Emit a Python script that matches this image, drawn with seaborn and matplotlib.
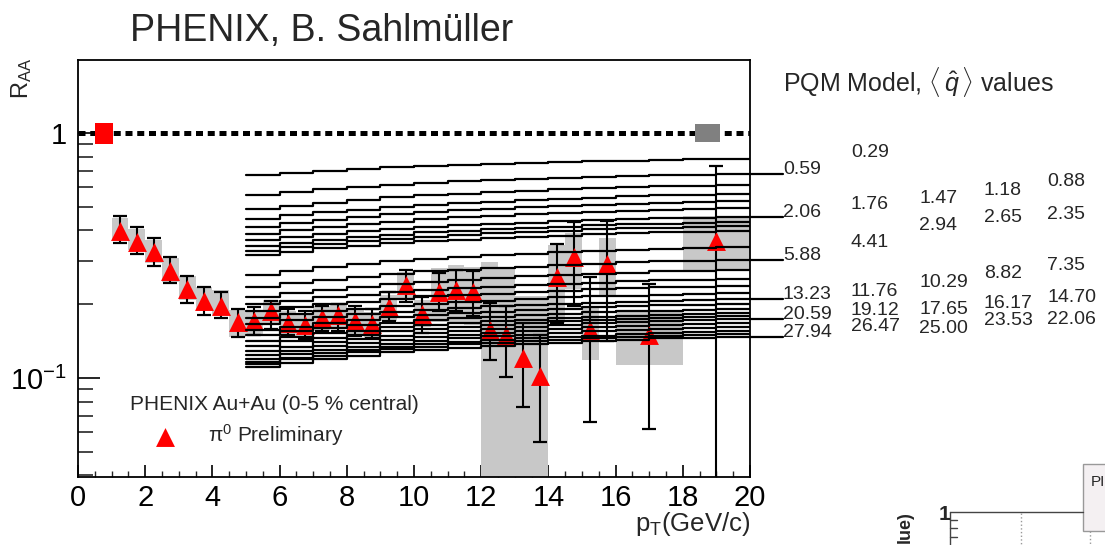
import numpy as np
import pandas as pd
import matplotlib
matplotlib.use("Agg")
import matplotlib.pyplot as plt
from matplotlib.ticker import MultipleLocator, LogLocator, NullFormatter, FixedLocator
from matplotlib.lines import Line2D
from matplotlib.patches import Rectangle
import seaborn as sns

# ---------------- data ----------------
# PQM model curves: <q-hat> values and R_AA in 1-GeV/c steps from pT = 5 to 20
qhat = ["0.29", "0.59", "0.88", "1.18", "1.47", "1.76", "2.06", "2.35", "2.65", "2.94", "4.41", "5.88",
        "7.35", "8.82", "10.29", "11.76", "13.23", "14.70", "16.17", "17.65", "19.12", "20.59", "22.06",
        "23.53", "25.00", "26.47", "27.94"]
model_pt_edges = [5, 6, 7, 8, 9, 10, 11, 12, 13, 14, 15, 16, 17, 18, 19, 20]
model_raa = [
    [0.674, 0.688, 0.702, 0.713, 0.724, 0.734, 0.742, 0.749, 0.755, 0.761, 0.767, 0.772, 0.776, 0.780, 0.783],
    [0.558, 0.574, 0.589, 0.602, 0.614, 0.625, 0.634, 0.641, 0.649, 0.655, 0.662, 0.667, 0.672, 0.676, 0.680],
    [0.490, 0.505, 0.520, 0.533, 0.546, 0.557, 0.566, 0.573, 0.581, 0.588, 0.594, 0.600, 0.605, 0.609, 0.613],
    [0.446, 0.461, 0.475, 0.487, 0.499, 0.509, 0.518, 0.525, 0.533, 0.539, 0.545, 0.551, 0.556, 0.560, 0.564],
    [0.413, 0.428, 0.442, 0.454, 0.465, 0.475, 0.483, 0.490, 0.498, 0.504, 0.510, 0.515, 0.520, 0.524, 0.528],
    [0.387, 0.401, 0.413, 0.425, 0.435, 0.445, 0.453, 0.459, 0.466, 0.472, 0.478, 0.482, 0.487, 0.491, 0.494],
    [0.366, 0.377, 0.388, 0.397, 0.406, 0.414, 0.420, 0.426, 0.431, 0.436, 0.441, 0.444, 0.448, 0.451, 0.454],
    [0.346, 0.357, 0.367, 0.377, 0.385, 0.393, 0.399, 0.405, 0.410, 0.415, 0.420, 0.424, 0.427, 0.430, 0.433],
    [0.330, 0.341, 0.351, 0.361, 0.369, 0.377, 0.383, 0.389, 0.394, 0.399, 0.404, 0.408, 0.411, 0.414, 0.417],
    [0.318, 0.328, 0.338, 0.346, 0.354, 0.361, 0.367, 0.372, 0.377, 0.381, 0.386, 0.389, 0.393, 0.395, 0.398],
    [0.263, 0.273, 0.283, 0.291, 0.299, 0.306, 0.312, 0.317, 0.322, 0.326, 0.330, 0.334, 0.337, 0.340, 0.343],
    [0.235, 0.244, 0.252, 0.259, 0.266, 0.272, 0.277, 0.281, 0.285, 0.289, 0.293, 0.296, 0.299, 0.301, 0.303],
    [0.214, 0.222, 0.229, 0.236, 0.242, 0.247, 0.252, 0.256, 0.260, 0.263, 0.266, 0.269, 0.272, 0.274, 0.276],
    [0.200, 0.207, 0.214, 0.219, 0.224, 0.229, 0.233, 0.236, 0.240, 0.242, 0.245, 0.248, 0.250, 0.252, 0.254],
    [0.188, 0.194, 0.200, 0.205, 0.210, 0.215, 0.218, 0.221, 0.224, 0.227, 0.230, 0.232, 0.234, 0.236, 0.237],
    [0.176, 0.182, 0.187, 0.192, 0.197, 0.201, 0.204, 0.207, 0.210, 0.213, 0.215, 0.217, 0.219, 0.221, 0.222],
    [0.166, 0.172, 0.177, 0.182, 0.186, 0.190, 0.193, 0.196, 0.199, 0.201, 0.203, 0.205, 0.207, 0.209, 0.210],
    [0.157, 0.162, 0.168, 0.172, 0.177, 0.180, 0.184, 0.186, 0.189, 0.191, 0.194, 0.196, 0.198, 0.199, 0.200],
    [0.150, 0.155, 0.160, 0.164, 0.168, 0.172, 0.175, 0.178, 0.180, 0.183, 0.185, 0.187, 0.188, 0.190, 0.191],
    [0.142, 0.147, 0.152, 0.156, 0.161, 0.164, 0.168, 0.170, 0.173, 0.175, 0.178, 0.179, 0.181, 0.183, 0.184],
    [0.135, 0.141, 0.146, 0.150, 0.155, 0.159, 0.162, 0.165, 0.167, 0.170, 0.172, 0.174, 0.176, 0.178, 0.179],
    [0.129, 0.134, 0.140, 0.144, 0.149, 0.153, 0.156, 0.159, 0.162, 0.164, 0.167, 0.169, 0.171, 0.173, 0.174],
    [0.124, 0.129, 0.135, 0.139, 0.143, 0.147, 0.150, 0.153, 0.156, 0.158, 0.161, 0.163, 0.165, 0.166, 0.168],
    [0.120, 0.125, 0.130, 0.134, 0.138, 0.142, 0.145, 0.148, 0.150, 0.153, 0.155, 0.157, 0.159, 0.160, 0.161],
    [0.116, 0.121, 0.126, 0.130, 0.134, 0.137, 0.140, 0.143, 0.145, 0.147, 0.149, 0.151, 0.153, 0.154, 0.156],
    [0.114, 0.119, 0.123, 0.127, 0.131, 0.134, 0.137, 0.139, 0.141, 0.143, 0.145, 0.147, 0.149, 0.150, 0.151],
    [0.111, 0.115, 0.120, 0.123, 0.127, 0.130, 0.133, 0.135, 0.137, 0.139, 0.141, 0.143, 0.145, 0.146, 0.147],
]

# PHENIX pi0 R_AA (0-5 % central)
pt = [1.25, 1.75, 2.25, 2.75, 3.25, 3.75, 4.25, 4.75, 5.25, 5.75, 6.25, 6.75, 7.25, 7.75, 8.25, 8.75, 9.25, 9.75,
      10.25, 10.75, 11.25, 11.75, 12.25, 12.75, 13.25, 13.75, 14.25, 14.75, 15.25, 15.75, 17.0, 19.0]
bin_w = [0.5] * 30 + [2.0, 2.0]
raa = [0.399, 0.360, 0.328, 0.274, 0.231, 0.207, 0.197, 0.169, 0.170, 0.187, 0.167, 0.164, 0.176, 0.181, 0.170,
       0.166, 0.194, 0.240, 0.182, 0.225, 0.229, 0.224, 0.157, 0.150, 0.121, 0.102, 0.259, 0.311, 0.157, 0.292,
       0.150, 0.362]
stat_hi = [0.460, 0.412, 0.372, 0.313, 0.261, 0.235, 0.225, 0.191, 0.195, 0.207, 0.191, 0.187, 0.197, 0.200, 0.197,
           0.191, 0.225, 0.276, 0.213, 0.269, 0.276, 0.274, 0.203, 0.197, 0.168, 0.150, 0.352, 0.433, 0.258, 0.439,
           0.242, 0.736]
stat_lo = [0.357, 0.321, 0.287, 0.243, 0.203, 0.181, 0.175, 0.147, 0.150, 0.158, 0.150, 0.144, 0.156, 0.155, 0.148,
           0.145, 0.170, 0.205, 0.152, 0.187, 0.187, 0.179, 0.118, 0.101, 0.076, 0.055, 0.168, 0.196, 0.066, 0.141,
           0.062, 0.010]
sys_hi = [0.450, 0.405, 0.366, 0.309, 0.261, 0.235, 0.228, 0.190, 0.190, 0.208, 0.187, 0.183, 0.197, 0.202, 0.190,
          0.186, 0.218, 0.270, 0.208, 0.281, 0.289, 0.284, 0.296, 0.280, 0.216, 0.216, 0.350, 0.391, 0.196, 0.372,
          0.187, 0.458]
sys_lo = [0.366, 0.333, 0.294, 0.247, 0.208, 0.187, 0.181, 0.147, 0.150, 0.166, 0.147, 0.145, 0.155, 0.160, 0.150,
          0.146, 0.170, 0.210, 0.162, 0.169, 0.169, 0.164, 0.018, 0.020, 0.026, 0.005, 0.168, 0.231, 0.118, 0.218,
          0.113, 0.276]

# normalization uncertainty boxes at R_AA = 1
norm_left = [0.50, 18.36]
norm_width = [0.53, 0.74]
norm_lo = [0.899, 0.919]
norm_hi = [1.095, 1.088]
norm_color = ["#ff0000", "#808080"]

# labelled q-hat values (first column with leader lines, others placed in columns)
lead_labels = ["0.59", "2.06", "5.88", "13.23", "20.59", "27.94"]
label_cols = [
    (23.0, ["0.29", "1.76", "4.41", "11.76", "19.12", "26.47"], [0.796, 0.488, 0.343, 0.216, 0.181, 0.155]),
    (25.03, ["1.47", "2.94", "10.29", "17.65", "25.00"], [0.516, 0.402, 0.236, 0.182, 0.152]),
    (26.96, ["1.18", "2.65", "8.82", "16.17", "23.53"], [0.558, 0.434, 0.255, 0.193, 0.165]),
    (28.84, ["0.88", "2.35", "7.35", "14.70", "22.06"], [0.608, 0.444, 0.276, 0.205, 0.166]),
]

# ---------------- style ----------------
sns.set_theme(style="white")
plt.rcParams['font.family'] = ['Liberation Sans', 'DejaVu Sans']
plt.rcParams['mathtext.fontset'] = 'custom'
plt.rcParams['mathtext.rm'] = 'Liberation Sans'
plt.rcParams['mathtext.it'] = 'Liberation Sans:italic'
plt.rcParams['mathtext.bf'] = 'Liberation Sans:bold'

W, H = 1105, 545
fig = plt.figure(figsize=(W / 100, H / 100), dpi=100)
ax = fig.add_axes([78 / W, 68 / H, 672 / W, 417 / H])
ax.set_yscale('log')

# systematic boxes
ax.bar(pt, np.array(sys_hi) - np.array(sys_lo), bottom=sys_lo, width=bin_w,
       color="#c8c8c8", linewidth=0, zorder=1)

# model curves (step histograms)
recs = []
for q, r in zip(qhat, model_raa):
    vals = list(r) + [r[-1]]
    for x, v in zip(model_pt_edges, vals):
        recs.append((q, x, v))
df = pd.DataFrame(recs, columns=["q", "pt", "raa"])
sns.lineplot(data=df, x="pt", y="raa", units="q", estimator=None, color="black", lw=1.6,
             drawstyle="steps-post", sort=False, ax=ax, legend=False, zorder=5)

# data points with statistical error bars
raa_a = np.array(raa)
ax.errorbar(pt, raa, yerr=[raa_a - np.array(stat_lo), np.array(stat_hi) - raa_a], fmt='none',
            ecolor='black', elinewidth=1.5, capsize=5, capthick=1.6, zorder=3)
sns.scatterplot(x=pt, y=raa, marker='^', s=185, color='#ff0000', linewidth=0, ax=ax, zorder=4, legend=False)

# reference line and normalization boxes
ax.axhline(1.0, color='black', lw=3.6, ls=(0, (1.4, 0.95)), zorder=6)
ax.bar(norm_left, np.array(norm_hi) - np.array(norm_lo), bottom=norm_lo, width=norm_width,
       align='edge', color=norm_color, linewidth=0, zorder=7)

ax.set_xlim(0, 20)
ax.set_ylim(0.0394, 1.986)
ax.set_xlabel("")
ax.set_ylabel("")
ax.xaxis.set_major_locator(MultipleLocator(2))
ax.xaxis.set_minor_locator(MultipleLocator(0.5))
ax.yaxis.set_major_locator(FixedLocator([0.1, 1.0]))
ax.set_yticklabels([r'$10^{-1}$', '1'])
ax.yaxis.set_minor_locator(LogLocator(base=10, subs=np.arange(2, 10) * 1.0, numticks=20))
ax.yaxis.set_minor_formatter(NullFormatter())
ax.tick_params(axis='x', which='major', direction='in', length=9, width=1.2, labelsize=21, pad=5,
               bottom=True, top=False, colors='black')
ax.tick_params(axis='x', which='minor', direction='in', length=4.5, width=1.0, bottom=True, top=False)
ax.tick_params(axis='y', which='major', direction='in', length=16, width=1.2, labelsize=21, pad=8,
               left=True, right=False, colors='black')
ax.tick_params(axis='y', which='minor', direction='in', length=10.5, width=1.2, left=True, right=False)
for sp in ax.spines.values():
    sp.set_color('black')
    sp.set_linewidth(1.3)

# right-side q-hat labels
for q in lead_labels:
    v = model_raa[qhat.index(q)][-1]
    ax.plot([20, 20.98], [v, v], color='black', lw=1.6, clip_on=False, zorder=5)
    ax.text(20.98, v, q, fontsize=14, va='baseline', ha='left', clip_on=False)
for xc, texts, ys in label_cols:
    for t, yv in zip(texts, ys):
        ax.text(xc, yv, t, fontsize=14, va='baseline', ha='left', clip_on=False)

# legend
ax.text(0.0774, 0.1727, "PHENIX Au+Au (0-5 % central)", transform=ax.transAxes, va='center', ha='left',
        fontsize=15)
ax.text(0.1935, 0.1007, r"$\mathrm{\pi}^{0}$ Preliminary", transform=ax.transAxes, va='center', ha='left',
        fontsize=15)
ax.scatter([0.1295], [0.0959], transform=ax.transAxes, marker='^', s=185, color='#ff0000', linewidth=0,
           clip_on=False)

# titles
fig.text(130 / W, 1 - 41 / H, "PHENIX, B. Sahlmüller", fontsize=27, va='baseline', ha='left')
fig.text(783 / W, 1 - 91 / H, r"PQM Model, $\langle\,\hat{q}\,\rangle$ values", fontsize=18, va='baseline',
         ha='left')
fig.text(750 / W, 1 - 531 / H, r"p$_{\mathrm{T}}$(GeV/c)", fontsize=18.5, va='baseline', ha='right')
fig.text(22 / W, 1 - 78 / H, r"R$_{\mathrm{AA}}$", fontsize=17, rotation=90, va='center', ha='center')

# fragment of a neighbouring plot at the bottom right
def fl(x0, y0, x1, y1, **kw):
    fig.add_artist(Line2D([x0 / W, x1 / W], [1 - y0 / H, 1 - y1 / H], transform=fig.transFigure, **kw))

fig.text(905 / W, 1 - 511 / H, "lue)", fontsize=13, fontweight='bold', rotation=90, va='top', ha='center')
fig.text(944 / W, 1 - 515 / H, "1", fontsize=15, fontweight='bold', va='center', ha='center')
fl(950, 512, 1083, 512, color='#444444', lw=1)
fl(950, 512, 950, 545, color='#444444', lw=1)
for yy in (520, 528, 537):
    fl(950, yy, 957, yy, color='#444444', lw=1)
fl(1021, 513, 1021, 545, color='#999999', lw=1, ls=':')
fl(1090, 531, 1090, 545, color='#999999', lw=1, ls=':')
fig.add_artist(Rectangle((1083 / W, 1 - 531 / H), 40 / W, 67 / H, transform=fig.transFigure,
                         facecolor='#f4f0f2', edgecolor='#999999', lw=1))
fig.text(1091 / W, 1 - 482 / H, "PI", fontsize=11, va='center', ha='left')

fig.savefig("out.png", dpi=100)
